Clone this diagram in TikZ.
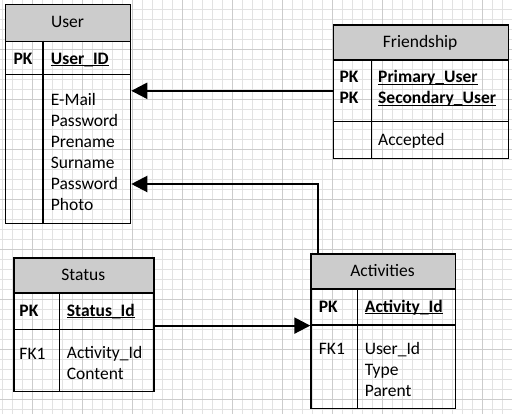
\documentclass[tikz,border=0pt]{standalone}
\usepackage{fontspec}
\setmainfont{Carlito}
\usetikzlibrary{arrows.meta}

\definecolor{headgray}{RGB}{204,204,204}
\definecolor{gridminor}{RGB}{226,226,226}
\definecolor{gridmajor}{RGB}{204,204,204}

\tikzset{
  box/.style={draw, line width=1.3pt, inner sep=0pt, anchor=north west},
  head/.style={box, fill=headgray},
  txt/.style={inner sep=0pt, anchor=base west, align=left},
  link/.style={line width=2.2pt, -{Triangle[length=16pt,width=16pt]}}
}
\newcommand{\keyname}[1]{\setbox0\hbox{\textbf{#1}}\rlap{\rule[-2.4pt]{\wd0}{1.5pt}}\box0}

\begin{document}
\begin{tikzpicture}[x=1pt,y=-1pt,font=\fontsize{17.5}{21}\selectfont]
                \useasboundingbox (0,0) rectangle (512,413);
                \fill[white] (0,0) rectangle (512,413);
                % background grid
                \begin{scope}
                  \clip (0,0) rectangle (512,413);
                  \draw[gridminor, line width=0.8pt, step=10pt, shift={(2.7,9.3)}] (-10,420) grid (520,-10);
                  \draw[gridmajor, line width=0.8pt, step=50pt, shift={(32.7,49.3)}] (-50,400) grid (500,-50);
                \end{scope}
                % User
                \node[head, minimum width=125pt, minimum height=36.7pt] (usertitle) at (5,4) {};
                \node[box, minimum width=125pt, minimum height=33.3pt] (userkey) at (5,40.7) {};
                \node[box, minimum width=125pt, minimum height=149pt] (userbody) at (5,74) {};
                \draw[line width=1.3pt] (43,40.7) -- (43,223);
                \node[anchor=base] (username) at (67.5,27.7) {User};
                \node[txt] (userpk) at (13.3,64) {\textbf{PK}};
                \node[txt] (userid) at (50.7,64) {\keyname{User\_ID}};
                \node[txt] (userattr) at (50.7,210) {E-Mail\\Password\\Prename\\Surname\\Password\\Photo};
                % Friendship
                \node[head, minimum width=175pt, minimum height=35pt] (friendtitle) at (332.7,24.3) {};
                \node[box, minimum width=175pt, minimum height=61.7pt] (friendkey) at (332.7,59.3) {};
                \node[box, minimum width=175pt, minimum height=37pt] (friendbody) at (332.7,121) {};
                \draw[line width=1.3pt] (371.3,59.3) -- (371.3,158);
                \node[anchor=base] (friendname) at (420.2,47.3) {Friendship};
                \node[txt] (friendpk) at (339.3,103.7) {\textbf{PK}\\\textbf{PK}};
                \node[txt] (friendids) at (378,103.7) {\keyname{Primary\_User}\\\keyname{Secondary\_User}};
                \node[txt] (friendattr) at (378,145) {Accepted};
                % Status
                \node[head, minimum width=140pt, minimum height=35pt] (statustitle) at (13.3,257.3) {};
                \node[box, minimum width=140pt, minimum height=36.7pt] (statuskey) at (13.3,292.3) {};
                \node[box, minimum width=140pt, minimum height=62pt] (statusbody) at (13.3,329) {};
                \draw[line width=1.3pt] (59.3,292.3) -- (59.3,391);
                \node[anchor=base] (statusname) at (83.3,280.3) {Status};
                \node[txt] (statuspk) at (19.3,316) {\textbf{PK}};
                \node[txt] (statusid) at (66.7,316) {\keyname{Status\_Id}};
                \node[txt] (statusfk) at (19.3,359.3) {FK1};
                \node[txt] (statusattr) at (66.7,379.3) {Activity\_Id\\Content};
                % Activities
                \node[head, minimum width=144.4pt, minimum height=35pt] (acttitle) at (310.3,253.3) {};
                \node[box, minimum width=144.4pt, minimum height=36pt] (actkey) at (310.3,288.3) {};
                \node[box, minimum width=144.4pt, minimum height=83.4pt] (actbody) at (310.3,324.3) {};
                \draw[line width=1.3pt] (357.3,288.3) -- (357.3,407.7);
                \node[anchor=base] (actname) at (382.5,276) {Activities};
                \node[txt] (actpk) at (318.7,312) {\textbf{PK}};
                \node[txt] (actid) at (364.7,312) {\keyname{Activity\_Id}};
                \node[txt] (actfk) at (318.7,354.3) {FK1};
                \node[txt] (actattr) at (364.7,396.3) {User\_Id\\Type\\Parent};
                % relations
                \coordinate (bend) at (318.3,184);
                \draw[link] (friendkey.west) -- (friendkey.west -| userbody.east);
                \draw[link] (acttitle.north -| bend) -- (bend) -- (bend -| userbody.east);
                \draw[link] (actkey.south west -| statuskey.east) -- (actkey.south west);
            \end{tikzpicture}
\end{document}
